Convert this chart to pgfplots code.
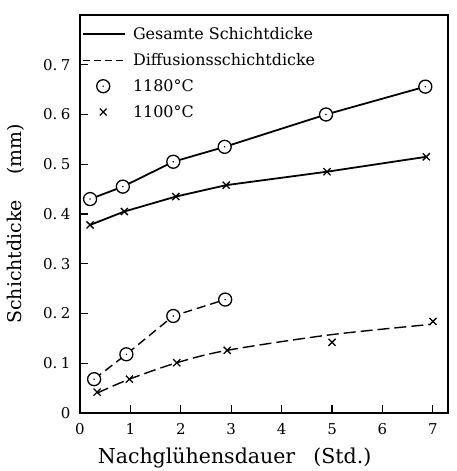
\documentclass[border=0pt]{standalone}
\usepackage{pgfplots}
\pgfplotsset{compat=1.18}
\usepackage{fontspec}
\setmainfont{DejaVu Serif}

\newcommand\tl{\fontsize{15}{17}\selectfont}
\newcommand\lf{\fontsize{16}{18}\selectfont}
\newcommand\yt[1]{\tl 0.\hspace{3.5bp}#1}

\pgfdeclareplotmark{odot}{%
  \pgfpathcircle{\pgfpointorigin}{\pgfplotmarksize}%
  \pgfusepathqfillstroke
  \begin{pgfscope}%
  \pgfsetfillcolor{black}%
  \pgfpathcircle{\pgfpointorigin}{0.8pt}%
  \pgfusepathqfill
  \end{pgfscope}}

\pgfplotsset{
  lineleg/.style={legend image code/.code={\draw[##1] (0bp,0bp) -- (42bp,0bp);\path (46bp,0bp);}},
  markleg/.style={legend image code/.code={\draw[##1] plot coordinates {(20bp,0bp)};\path (0bp,0bp) (44bp,0bp);}},
}

\begin{document}
\begin{tikzpicture}
\begin{axis}[
  scale only axis, width=368bp, height=398bp,
  xmin=0, xmax=7.3, ymin=0, ymax=0.8,
  clip=false,
  xtick={0,1,2,3,4,5,6,7},
  xticklabels={\tl 0,\tl 1,\tl 2,\tl 3,\tl 4,\tl 5,\tl 6,\tl 7},
  ytick={0,0.1,0.2,0.3,0.4,0.5,0.6,0.7},
  yticklabels={\tl 0,\yt1,\yt2,\yt3,\yt4,\yt5,\yt6,\yt7},
  xtick pos=bottom, ytick pos=left, tick align=inside,
  major tick length=8bp,
  tick style={black, line width=1.2pt},
  axis line style={line width=2.2pt},
  yticklabel style={xshift=-6bp},
  xticklabel style={yshift=-7bp},
  xlabel={Nachglühensdauer\hspace{18bp}(Std.)},
  ylabel={Schichtdicke\hspace{25bp}(mm)},
  every axis x label/.style={at={(axis description cs:0.42,-0.128)}, anchor=base, font=\fontsize{20.6}{24}\selectfont},
  every axis y label/.style={at={(axis description cs:-0.174,0.475)}, anchor=center, rotate=90, font=\fontsize{19}{22}\selectfont},
  legend style={at={(axis description cs:0.006,0.972)}, anchor=north west, draw=none, fill=none,
    row sep=10.5bp, inner xsep=0bp, inner ysep=0bp, nodes={inner xsep=3bp, inner ysep=1bp}},
  legend cell align=left,
]
\addlegendimage{lineleg, black, line width=1.6pt}
\addlegendentry{\lf Gesamte Schichtdicke}
\addlegendimage{lineleg, black, line width=1.4pt, dash pattern=on 7bp off 4bp}
\addlegendentry{\lf Diffusionsschichtdicke}
\addlegendimage{markleg, only marks, mark=odot, mark size=6.5bp, mark options={fill=white, line width=1.3pt}}
\addlegendentry{\lf 1180°C}
\addlegendimage{markleg, only marks, mark=x, mark size=4.8bp, mark options={line width=1.3pt}}
\addlegendentry{\lf 1100°C}

% 1180 total
\addplot[black, line width=1.8pt, mark=odot, mark size=6.5bp, mark options={fill=white, line width=1.3pt}]
  coordinates {(0.2,0.430) (0.85,0.455) (1.85,0.505) (2.87,0.535) (4.88,0.600) (6.85,0.656)};
% 1100 total
\addplot[black, line width=1.8pt, mark=x, mark size=5bp, mark options={line width=1.3pt}]
  coordinates {(0.2,0.378) (0.88,0.405) (1.9,0.435) (2.9,0.458) (4.9,0.485) (6.87,0.515)};
% 1180 diffusion
\addplot[black, line width=1.4pt, dash pattern=on 9bp off 5bp, mark=odot, mark size=6.5bp, mark options={fill=white, line width=1.3pt, solid}]
  coordinates {(0.28,0.068) (0.92,0.118) (1.85,0.195) (2.88,0.228)};
% 1100 diffusion curve
\addplot[black, line width=1.4pt, dash pattern=on 12bp off 5bp, smooth]
  coordinates {(0.34,0.040) (0.98,0.068) (1.92,0.101) (2.92,0.126) (4.95,0.157) (6.95,0.178)};
% 1100 diffusion marks
\addplot[only marks, black, mark=x, mark size=5bp, mark options={line width=1.3pt}]
  coordinates {(0.34,0.042) (0.98,0.068) (1.92,0.101) (2.92,0.126) (5.0,0.142) (7.0,0.184)};
\end{axis}
\pgfresetboundingbox
\path ([xshift=-80bp,yshift=-58bp]current axis.south west) rectangle ([xshift=8bp,yshift=15bp]current axis.north east);
\end{tikzpicture}
\end{document}
